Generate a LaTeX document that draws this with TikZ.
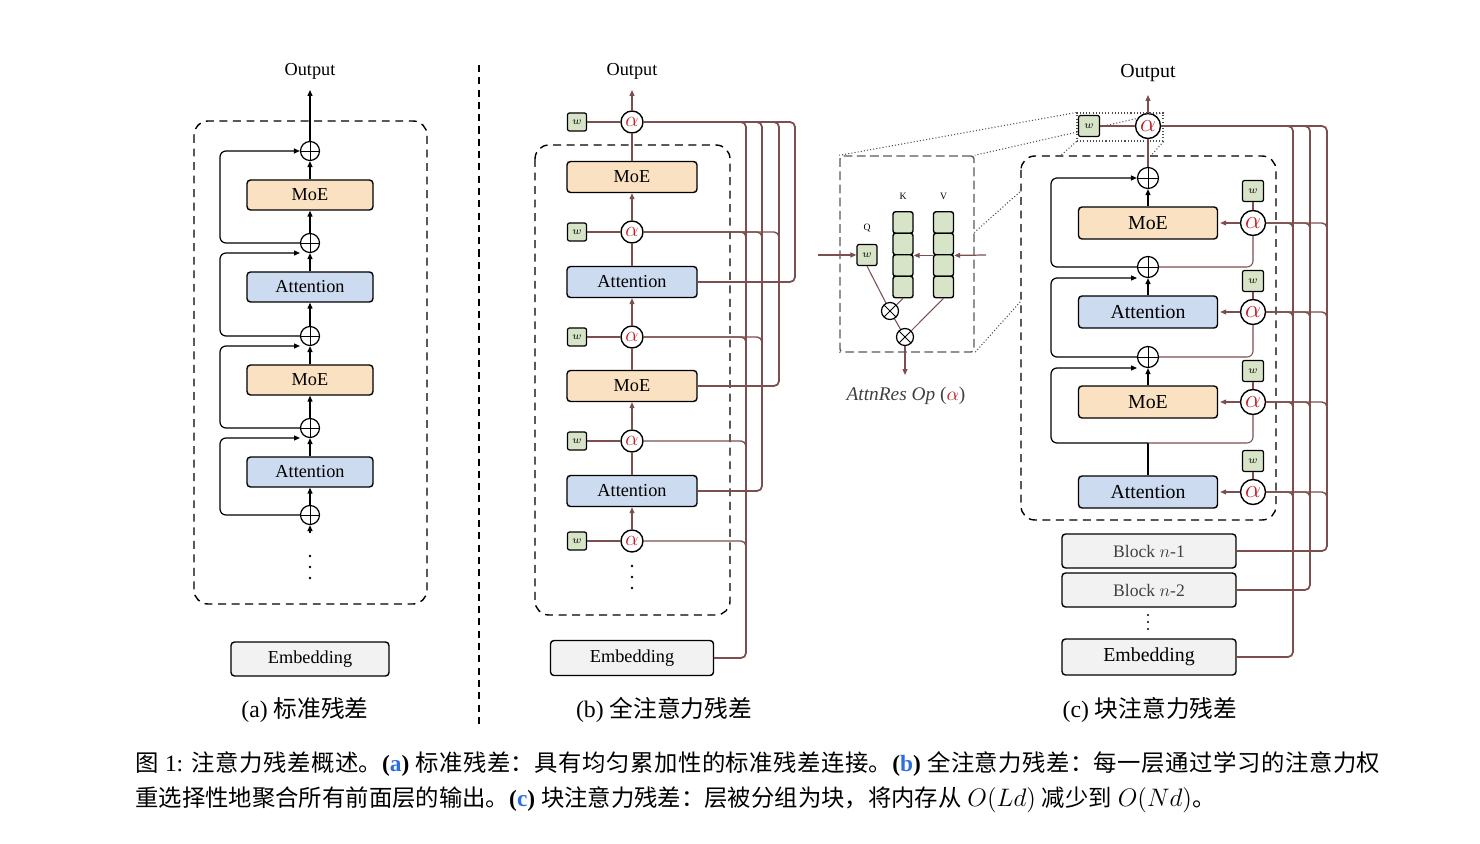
\documentclass[tikz,border=0pt]{standalone}
\usepackage{fontspec}
\setmainfont{Liberation Serif}
\newfontfamily\cjk{Noto Sans CJK SC}
\usetikzlibrary{arrows.meta,calc}
\newlength{\pu}\setlength{\pu}{0.02cm}
\definecolor{moefill}{RGB}{250,225,194}
\definecolor{attnfill}{RGB}{204,219,240}
\definecolor{embfill}{RGB}{242,242,242}
\definecolor{wfill}{RGB}{215,228,200}
\definecolor{brn}{RGB}{125,78,80}
\definecolor{alred}{RGB}{190,30,40}
\definecolor{capblue}{RGB}{45,110,225}
\newcommand{\fsa}{\fontsize{10.4}{12}\selectfont}
\newcommand{\fsb}{\fontsize{11.3}{13}\selectfont}
\newcommand{\fsc}{\fontsize{13.5}{16}\selectfont}
\newcommand{\fsal}{\fontsize{13}{15}\selectfont}
\newcommand{\fsalc}{\fontsize{14}{16}\selectfont}
\newcommand{\fsw}{\fontsize{6}{7}\selectfont}
\newcommand{\fsq}{\fontsize{5.5}{6.5}\selectfont}
\newcommand{\fsop}{\fontsize{11}{13}\selectfont}
\newcommand{\fscap}{\fontsize{13.3}{19.8}\selectfont}
\newcommand{\fsblk}{\fontsize{10}{12}\selectfont}
\pgfdeclarelayer{bg}\pgfsetlayers{bg,main}
\begin{document}
\begin{tikzpicture}[x=0.02cm,y=-0.02cm,
 layer/.style={draw, line width=0.8pt, rounded corners=3.5\pu, inner sep=0, minimum height=30\pu, minimum width=126\pu, font=\fsa},
 plus/.style={circle, draw, line width=0.7pt, fill=white, minimum size=19\pu, inner sep=0,
   path picture={\draw[line width=0.5pt] (path picture bounding box.north) -- (path picture bounding box.south) (path picture bounding box.west) -- (path picture bounding box.east);}},
 times/.style={circle, draw, line width=0.7pt, fill=white, minimum size=17\pu, inner sep=0,
   path picture={\draw[line width=0.5pt] ([shift={(45:9\pu)}]path picture bounding box.center) -- ([shift={(225:9\pu)}]path picture bounding box.center) ([shift={(135:9\pu)}]path picture bounding box.center) -- ([shift={(-45:9\pu)}]path picture bounding box.center);}},
 alphanode/.style={circle, draw, line width=0.8pt, fill=white, minimum size=22\pu, inner sep=0, text=alred, font=\fsal},
 alphac/.style={alphanode, minimum size=25\pu, font=\fsalc},
 wbox/.style={draw, line width=0.7pt, fill=wfill, rounded corners=2\pu, minimum width=19\pu, minimum height=18\pu, inner sep=0, font=\fsw},
 cell/.style={draw, line width=0.8pt, fill=wfill, rounded corners=2.5\pu, minimum width=20\pu, minimum height=21.5\pu, inner sep=0},
 barr/.style={line width=0.7pt, -{Triangle[length=0.12cm,width=0.1cm]}},
 bline/.style={line width=0.7pt},
 brarr/.style={color=brn, line width=0.7pt, -{Triangle[length=0.12cm,width=0.1cm]}},
 thinbr/.style={color=brn, line width=0.6pt},
 rail/.style={color=brn, line width=1pt, rounded corners=5\pu},
 branch/.style={color=brn, line width=0.8pt, rounded corners=5\pu},
 dashbox/.style={line width=0.8pt, dash pattern=on 4.5pt off 3.2pt, rounded corners=14\pu},
 dotline/.style={color=black!70, line width=0.6pt, dash pattern=on 0.6pt off 1.2pt},
 sepline/.style={line width=0.8pt, dash pattern=on 4pt off 3pt},
 rc/.style={rounded corners=6\pu}
]
\useasboundingbox (0,0) rectangle (1480,844);

%%%%%%%%%%%%%%%% Panel (a)
\node[font=\fsa] (outa) at (310,71) {Output};
\draw[dashbox] (194,121) rectangle (427,604);
\node[plus] (pa1) at (310,151) {};
\node[layer,fill=moefill] (ma1) at (310,195) {MoE};
\node[plus] (pa2) at (310,243) {};
\node[layer,fill=attnfill] (aa1) at (310,287) {Attention};
\node[plus] (pa3) at (310,336) {};
\node[layer,fill=moefill] (ma2) at (310,380) {MoE};
\node[plus] (pa4) at (310,428) {};
\node[layer,fill=attnfill] (aa2) at (310,472) {Attention};
\node[plus] (pa5) at (310,515) {};
\coordinate (ina) at (310,533);
\coordinate (topa) at (310,90);
\foreach \yy in {556,567,578} \fill (310,\yy) circle (1.3\pu);
\foreach \a/\b in {ina/pa5, pa5/aa2, aa2/pa4, pa4/ma2, ma2/pa3, pa3/aa1, aa1/pa2, pa2/ma1, ma1/pa1, pa1/topa}
  \draw[barr] (\a) -- (\b);
\draw[barr, rc] (pa2.west) -- (220,243) -- (220,151) -- (pa1.west);
\draw[barr, rc] (pa3.west) -- (220,336) -- (220,253) -- ($(pa2)+(-10,10)$);
\draw[barr, rc] (pa4.west) -- (220,428) -- (220,346) -- ($(pa3)+(-10,10)$);
\draw[barr, rc] (pa5.west) -- (220,515) -- (220,438) -- ($(pa4)+(-10,10)$);
\node[layer, fill=embfill, minimum width=158\pu, minimum height=34\pu] (ea) at (310,659) {Embedding};
\node[font=\fsc] (capa) at (305,710) {(a) {\cjk 标准残差}};

\draw[sepline] (479,65) -- (479,725);

%%%%%%%%%%%%%%%% Panel (b)
\node[font=\fsa] (outb) at (632,71) {Output};
\draw[dashbox] (535,145) rectangle (730,615);
\foreach \i/\yy in {1/122,2/232,3/337,4/441,5/541} {
  \node[alphanode] (ab\i) at (632,\yy) {$\alpha$};
  \node[wbox] (wb\i) at (577,\yy) {$w$};
  \draw[thinbr] (wb\i) -- (ab\i);
}
\node[layer,fill=moefill,minimum width=130\pu,minimum height=31\pu] (mb1) at (632,177) {MoE};
\node[layer,fill=attnfill,minimum width=130\pu,minimum height=31\pu] (atb1) at (632,282) {Attention};
\node[layer,fill=moefill,minimum width=130\pu,minimum height=31\pu] (mb2) at (632,386) {MoE};
\node[layer,fill=attnfill,minimum width=130\pu,minimum height=31\pu] (atb2) at (632,491) {Attention};
\coordinate (topb) at (632,90);
\draw[brarr] (ab1) -- (topb);
\draw[thinbr] (mb1) -- (ab1);
\draw[brarr] (ab2) -- (mb1);
\draw[thinbr] (atb1) -- (ab2);
\draw[brarr] (ab3) -- (atb1);
\draw[thinbr] (mb2) -- (ab3);
\draw[brarr] (ab4) -- (mb2);
\draw[thinbr] (atb2) -- (ab4);
\draw[brarr] (ab5) -- (atb2);
\foreach \yy in {566,577,588} \fill (632,\yy) circle (1.3\pu);
\node[layer, fill=embfill, minimum width=163\pu, minimum height=35\pu] (eb) at (632,658) {Embedding};
\draw[rail] (eb.east) -| (746,122) -- (ab1.east);
\draw[rail] (atb2.east) -| (762,122) -- (ab1.east);
\draw[rail] (mb2.east) -| (779,122) -- (ab1.east);
\draw[rail] (atb1.east) -| (795,122) -- (ab1.east);
\foreach \r in {746,762,779} \draw[branch] (ab2.east) -| (\r,242);
\foreach \r in {746,762} \draw[branch] (ab3.east) -| (\r,347);
\draw[branch] (ab4.east) -| (746,451);
\draw[branch] (ab5.east) -| (746,551);
\node[font=\fsc] (capb) at (664,710) {(b) {\cjk 全注意力残差}};

%%%%%%%%%%%%%%%% AttnRes Op
\node[draw=black!65, line width=0.8pt, dash pattern=on 5pt off 2.5pt, fill=white, rounded corners=3\pu, minimum width=134\pu, minimum height=196\pu, inner sep=0] (op) at (907,254) {};
\node[wbox, minimum width=20\pu, minimum height=21\pu] (q) at (867,255) {$w$};
\node[font=\fsq] (ql) at (867,228) {Q};
\node[font=\fsq] (kl) at (903,196) {K};
\node[font=\fsq] (vl) at (943.5,196) {V};
\foreach \i/\yy in {1/222.5,2/244,3/265.5,4/287} {
  \node[cell] (k\i) at (903,\yy) {};
  \node[cell] (v\i) at (943.5,\yy) {};
}
\coordinate (opin) at (818,255);
\coordinate (opr) at (986,255);
\draw[brarr] (opin) -- (q.west);
\draw[brarr] (opr) -- (v2.south east);
\draw[brarr] (v2.south west) -- (k2.south east);
\node[times] (t1) at (890,311) {};
\node[times] (t2) at (905,337) {};
\draw[thinbr] (q.south) -- (t1);
\draw[thinbr] (k4.south) -- (t1);
\draw[thinbr] (t1) -- (t2);
\draw[thinbr] (v4.south) -- (t2);
\coordinate (opout) at (905,375);
\draw[brarr] (t2) -- (opout);
\node[font=\fsop, text=black!75] (opl) at (906,396) {\textit{AttnRes Op} (\textcolor{alred}{$\alpha$})};

%%%%%%%%%%%%%%%% Panel (c)
\draw[dashbox, fill=white] (1021,156) rectangle (1276,520);
\node[font=\fsb] (outc) at (1148,73) {Output};
\node[alphac] (ac0) at (1148,126) {$\alpha$};
\node[wbox, minimum size=21\pu] (wc0) at (1089,126) {$w$};
\node[draw=black!70, line width=0.6pt, dash pattern=on 0.6pt off 1.2pt, minimum width=86\pu, minimum height=28\pu, inner sep=0] (dr) at (1120,127) {};
\coordinate (topc) at (1148,95);
\draw[brarr] (ac0) -- (topc);
\draw[thinbr] (wc0) -- (ac0);
\node[plus, minimum size=21\pu] (pc1) at (1148,178) {};
\draw[thinbr] (pc1) -- (ac0);

\node[layer, fill=moefill, minimum width=139\pu, minimum height=32\pu, font=\fsb] (mc1) at (1148,223) {MoE};
\node[alphac] (ac1) at (1253,223) {$\alpha$};
\node[wbox, minimum size=21\pu] (wc1) at (1253,191) {$w$};
\node[plus, minimum size=21\pu] (pc2) at (1148,267) {};
\node[layer, fill=attnfill, minimum width=139\pu, minimum height=32\pu, font=\fsb] (ac1b) at (1148,312) {Attention};
\node[alphac] (ac2) at (1253,312) {$\alpha$};
\node[wbox, minimum size=21\pu] (wc2) at (1253,281) {$w$};
\node[plus, minimum size=21\pu] (pc3) at (1148,357) {};
\node[layer, fill=moefill, minimum width=139\pu, minimum height=32\pu, font=\fsb] (mc2) at (1148,402) {MoE};
\node[alphac] (ac3) at (1253,402) {$\alpha$};
\node[wbox, minimum size=21\pu] (wc3) at (1253,371) {$w$};
\coordinate (jc) at (1148,443);
\node[layer, fill=attnfill, minimum width=139\pu, minimum height=32\pu, font=\fsb] (ac2b) at (1148,492) {Attention};
\node[alphac] (ac4) at (1253,492) {$\alpha$};
\node[wbox, minimum size=21\pu] (wc4) at (1253,461) {$w$};

\draw[barr] (mc1) -- (pc1);
\draw[barr, rc] (pc2.west) -- (1051,267) -- (1051,178) -- (pc1.west);
\draw[barr] (ac1b) -- (pc2);
\draw[barr, rc] (pc3.west) -- (1051,357) -- (1051,278) -- ($(pc2)+(-11,11)$);
\draw[barr] (mc2) -- (pc3);
\draw[barr, rc] (jc) -- (1051,443) -- (1051,368) -- ($(pc3)+(-11,11)$);
\draw[bline] (ac2b) -- (jc);
\draw[thinbr, rc] (ac1.south) -- (1253,267) -- (pc2.east);
\draw[thinbr, rc] (ac2.south) -- (1253,357) -- (pc3.east);
\draw[thinbr, rc] (ac3.south) -- (1253,443) -- (jc);
\foreach \n in {1,2,3,4} \draw[thinbr] (wc\n) -- (ac\n);
\draw[brarr, shorten >=2\pu] (ac1) -- (mc1);
\draw[brarr, shorten >=2\pu] (ac2) -- (ac1b);
\draw[brarr, shorten >=2\pu] (ac3) -- (mc2);
\draw[brarr, shorten >=2\pu] (ac4) -- (ac2b);

\node[layer, fill=embfill, minimum width=174\pu, minimum height=34\pu, font=\fsblk, text=black!75] (blk1) at (1149,551) {Block $n$-1};
\node[layer, fill=embfill, minimum width=174\pu, minimum height=34\pu, font=\fsblk, text=black!75] (blk2) at (1149,590) {Block $n$-2};
\foreach \yy in {615,622,629} \fill (1148,\yy) circle (1.1\pu);
\node[layer, fill=embfill, minimum width=174\pu, minimum height=36\pu, font=\fsb] (ec) at (1149,657) {Embedding};

\draw[rail] (ec.east) -| (1293,126) -- (ac0.east);
\draw[rail] (blk2.east) -| (1310,126) -- (ac0.east);
\draw[rail] (blk1.east) -| (1327,126) -- (ac0.east);
\foreach \n/\yy in {1/223,2/312,3/402,4/492}
  \foreach \r in {1293,1310,1327}
    \draw[branch] (ac\n.east) -| (\r,\yy+10);
\node[font=\fsc] (capc) at (1150,710) {(c) {\cjk 块注意力残差}};

%%%%%%%%%%%%%%%% zoom lines
\begin{pgfonlayer}{bg}
\draw[dotline] (dr.north west) -- (op.north west);
\draw[dotline] (dr.north east) -- (op.north east);
\draw[dotline] (dr.south west) -- (op.south west);
\draw[dotline] (dr.south east) -- (op.south east);
\end{pgfonlayer}

%%%%%%%%%%%%%%%% Caption
\node[anchor=north west, inner sep=0, text width=1245\pu, align=justify, font=\fscap] (cap) at (135,751) {\XeTeXlinebreaklocale "zh"\XeTeXlinebreakskip=0pt plus 2pt {\cjk 图} 1: {\cjk 注意力残差概述。}\textbf{(\textcolor{capblue}{a})} {\cjk 标准残差：具有均匀累加性的标准残差连接。}\textbf{(\textcolor{capblue}{b})} {\cjk 全注意力残差：每一层通过学习的注意力权}\linebreak {\cjk 重选择性地聚合所有前面层的输出。}\textbf{(\textcolor{capblue}{c})} {\cjk 块注意力残差：层被分组为块，将内存从} $O(Ld)$ {\cjk 减少到} $O(Nd)${\cjk 。}};
\end{tikzpicture}
\end{document}
